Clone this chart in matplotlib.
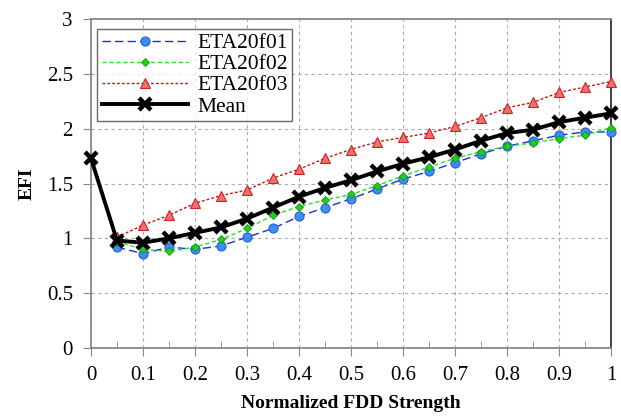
import numpy as np
import matplotlib.pyplot as plt
from matplotlib.ticker import MultipleLocator

plt.rcParams['font.family'] = ['Liberation Serif', 'DejaVu Serif']

# normalized FDD strength
x = [0.0, 0.05, 0.1, 0.15, 0.2, 0.25, 0.3, 0.35, 0.4, 0.45, 0.5,
     0.55, 0.6, 0.65, 0.7, 0.75, 0.8, 0.85, 0.9, 0.95, 1.0]
x_runs = x[1:]

eta01 = [0.92, 0.86, 0.92, 0.90, 0.93, 1.01, 1.09, 1.20, 1.28, 1.36,
         1.45, 1.54, 1.61, 1.69, 1.77, 1.84, 1.89, 1.94, 1.97, 1.97]
eta02 = [0.97, 0.90, 0.88, 0.92, 0.99, 1.09, 1.21, 1.29, 1.35, 1.40,
         1.48, 1.57, 1.65, 1.73, 1.79, 1.84, 1.87, 1.91, 1.94, 2.01]
eta03 = [1.01, 1.12, 1.21, 1.32, 1.39, 1.44, 1.55, 1.63, 1.73, 1.81,
         1.88, 1.92, 1.96, 2.02, 2.10, 2.19, 2.24, 2.33, 2.38, 2.43]
mean = [1.73, 0.98, 0.96, 1.00, 1.05, 1.10, 1.18, 1.28, 1.38, 1.46, 1.53,
        1.61, 1.68, 1.74, 1.81, 1.89, 1.96, 1.99, 2.06, 2.10, 2.14]

fig = plt.figure(figsize=(6.21, 4.18), dpi=100)
ax = fig.add_axes([0.1465, 0.1675, 0.8375, 0.787])

ax.plot(x_runs, eta01, color='#1f2fcc', linestyle=(0, (6, 3)), linewidth=1.0,
        marker='o', markersize=6.5, markerfacecolor='#3d8ef0', markeredgecolor='#1f5fd8',
        markeredgewidth=0.8, label='ETA20f01', clip_on=False, zorder=3)
ax.plot(x_runs, eta02, color='#22e022', linestyle=(0, (3, 2)), linewidth=1.0,
        marker='D', markersize=4.5, markerfacecolor='#22cc22', markeredgecolor='#119911',
        markeredgewidth=0.6, label='ETA20f02', clip_on=False, zorder=3)
ax.plot(x_runs, eta03, color='#cc1111', linestyle=(0, (2, 1.5)), linewidth=1.0,
        marker='^', markersize=6.5, markerfacecolor='#f07070', markeredgecolor='#cc2222',
        markeredgewidth=0.8, label='ETA20f03', clip_on=False, zorder=3)
ax.plot(x, mean, color='black', linewidth=2.8, marker='x', markersize=9,
        markeredgewidth=3.2, markeredgecolor='black', label='Mean',
        clip_on=False, zorder=4)

ax.set_xlim(0, 1)
ax.set_ylim(0, 3)
ax.xaxis.set_minor_locator(MultipleLocator(0.05))
ax.set_xticks([0, 0.1, 0.2, 0.3, 0.4, 0.5, 0.6, 0.7, 0.8, 0.9, 1])
ax.set_xticklabels(['0', '0.1', '0.2', '0.3', '0.4', '0.5', '0.6', '0.7', '0.8', '0.9', '1'])
ax.set_yticks([0, 0.5, 1, 1.5, 2, 2.5, 3])
ax.set_yticklabels(['0', '0.5', '1', '1.5', '2', '2.5', '3'])

ax.grid(True, which='major', color='#aaaaaa', linestyle=(0, (3, 3)), linewidth=0.8)
ax.tick_params(axis='both', which='major', labelsize=15, direction='out',
               length=6, color='#888888', pad=7)
ax.tick_params(axis='x', which='minor', direction='in', length=5, color='#888888')

for side in ['left', 'bottom', 'top']:
    ax.spines[side].set_color('#888888')
    ax.spines[side].set_linewidth(1.3)
ax.spines['right'].set_color('#333333')
ax.spines['right'].set_linewidth(1.3)

ax.set_xlabel('Normalized FDD Strength', fontsize=14, fontweight='bold', labelpad=7)
ax.set_ylabel('EFI', fontsize=14, fontweight='bold', labelpad=8)

leg = ax.legend(loc='upper left', bbox_to_anchor=(0.0, 0.99), fontsize=15.5,
                frameon=True, fancybox=False, edgecolor='#444444', handlelength=4.0,
                borderpad=0.2, labelspacing=0.05, handletextpad=0.45,
                borderaxespad=0.3)
leg.get_frame().set_linewidth(1.0)

fig.savefig('out.png', dpi=100)
